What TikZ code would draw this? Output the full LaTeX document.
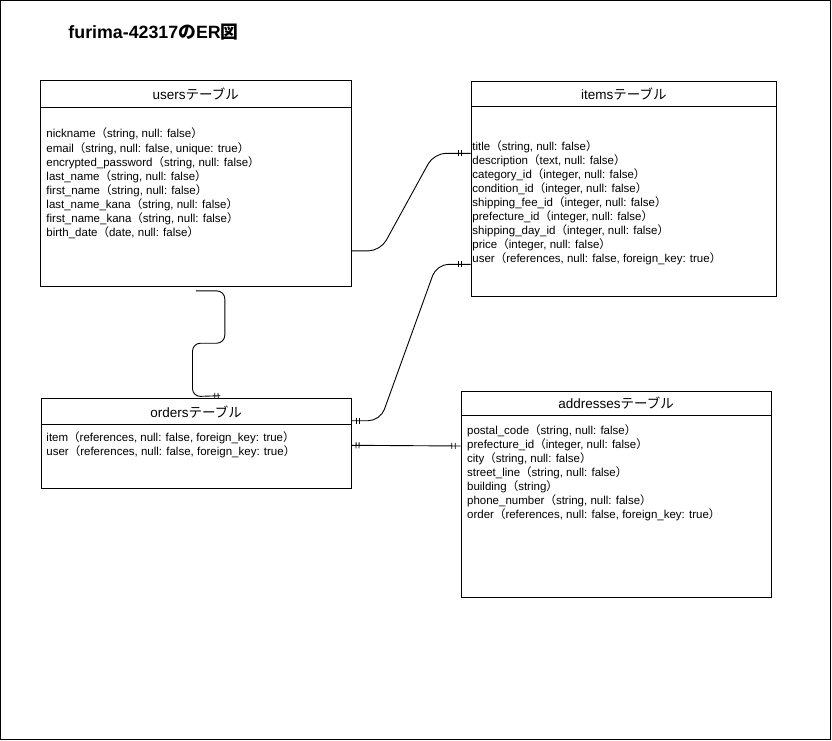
\documentclass[tikz,border=0pt]{standalone}
\usepackage{fontspec}
\setmainfont{Liberation Sans}
\newfontfamily\cjk{Noto Sans CJK JP}
\usetikzlibrary{decorations.markings}
\newcommand\lpj{{\cjk （}}
\newcommand\rpj{{\cjk ）}}

\begin{document}
\begin{tikzpicture}[x=1pt,y=-1pt,line width=0.9pt,
  tbl/.style={draw,inner sep=0,anchor=north west},
  hdr/.style={draw,inner sep=0,anchor=north,font=\fontsize{13.5}{16}\selectfont},
  field/.style={inner sep=0,anchor=base west,font=\fontsize{11.5}{14}\selectfont},
  rel/.style={rounded corners=12pt},
  tick/.style={postaction={decorate,decoration={markings,
    mark=at position #1 with {\draw[line width=0.8pt] (0,-3pt) -- (0,3pt);}}}}]
\useasboundingbox (0,0) rectangle (832,741);
\draw[line width=1.2pt] (0.6,0.6) rectangle (830.2,739.4);
\node[anchor=west,inner sep=0,font=\fontsize{17.8}{20}\selectfont\bfseries] (title) at (68,32) {furima-42317{\cjk の}ER{\cjk 図}};
% tables
\node[tbl,minimum width=310.7pt,minimum height=206pt] (users) at (40,80) {};
\node[hdr,minimum width=310.7pt,minimum height=26.7pt] (usersh) at (users.north) {users{\cjk テーブル}};
\node[tbl,minimum width=305.3pt,minimum height=215pt] (items) at (470.7,80.7) {};
\node[hdr,minimum width=305.3pt,minimum height=25.3pt] (itemsh) at (items.north) {items{\cjk テーブル}};
\node[tbl,minimum width=310pt,minimum height=90pt] (orders) at (40.7,398.3) {};
\node[hdr,minimum width=310pt,minimum height=26pt] (ordersh) at (orders.north) {orders{\cjk テーブル}};
\node[tbl,minimum width=310pt,minimum height=206pt] (addresses) at (460.7,390.7) {};
\node[hdr,minimum width=310pt,minimum height=24.6pt] (addressesh) at (addresses.north) {addresses{\cjk テーブル}};
% columns
\foreach \f [count=\i from 0] in {{nickname\lpj string, null: false\rpj},
  {email\lpj string, null: false, unique: true\rpj},
  {encrypted\_password\lpj string, null: false\rpj},
  {last\_name\lpj string, null: false\rpj},
  {first\_name\lpj string, null: false\rpj},
  {last\_name\_kana\lpj string, null: false\rpj},
  {first\_name\_kana\lpj string, null: false\rpj},
  {birth\_date\lpj date, null: false\rpj}}
  \node[field] (uf\i) at (46,{138+14*\i}) {\f};
\foreach \f [count=\i from 0] in {{title\lpj string, null: false\rpj},
  {description\lpj text, null: false\rpj},
  {category\_id\lpj integer, null: false\rpj},
  {condition\_id\lpj integer, null: false\rpj},
  {shipping\_fee\_id\lpj integer, null: false\rpj},
  {prefecture\_id\lpj integer, null: false\rpj},
  {shipping\_day\_id\lpj integer, null: false\rpj},
  {price\lpj integer, null: false\rpj},
  {user\lpj references, null: false, foreign\_key: true\rpj}}
  \node[field] (if\i) at (472,{150+14*\i}) {\f};
\foreach \f [count=\i from 0] in {{item\lpj references, null: false, foreign\_key: true\rpj},
  {user\lpj references, null: false, foreign\_key: true\rpj}}
  \node[field] (of\i) at (46,{441.5+14*\i}) {\f};
\foreach \f [count=\i from 0] in {{postal\_code\lpj string, null: false\rpj},
  {prefecture\_id\lpj integer, null: false\rpj},
  {city\lpj string, null: false\rpj},
  {street\_line\lpj string, null: false\rpj},
  {building\lpj string\rpj},
  {phone\_number\lpj string, null: false\rpj},
  {order\lpj references, null: false, foreign\_key: true\rpj}}
  \node[field] (af\i) at (466.7,{434.7+14*\i}) {\f};
% relations
\coordinate (c1s) at ([yshift=36pt]users.south east);
\coordinate (c1e) at ([yshift=-72.6pt]items.north west);
\draw[rel,tick=-12.4pt,tick=-9pt] (c1s) -- ++(28.8,0) -- ([xshift=-36.7pt]c1e) -- (c1e);
\coordinate (c2s) at ([yshift=-22.4pt]orders.north east);
\coordinate (c2e) at ([yshift=-183.6pt]items.north west);
\draw[rel,tick=4.3pt,tick=7.6pt,tick=-12.4pt,tick=-9pt] (c2s) -- ++(28.7,0) -- ([xshift=-34pt]c2e) -- (c2e);
\coordinate (c3s) at ([yshift=-47pt]orders.north east);
\coordinate (c3e) at ([yshift=-55.3pt]addresses.north west);
\draw[tick=4.5pt,tick=7.5pt,tick=-9pt,tick=-5.5pt] (c3s) -- (c3e);
\coordinate (c4s) at ([yshift=-4pt]users.south);
\coordinate (c4e) at ([xshift=24.3pt,yshift=2.6pt]orders.north);
\draw[rounded corners=8pt,tick=-5.7pt,tick=-2.3pt] (c4s) -- ++(29,0) -- ++(0,52.3) -- ++(-32.3,0) -- ++(0,53.4) -- (c4e);
\end{tikzpicture}
\end{document}
